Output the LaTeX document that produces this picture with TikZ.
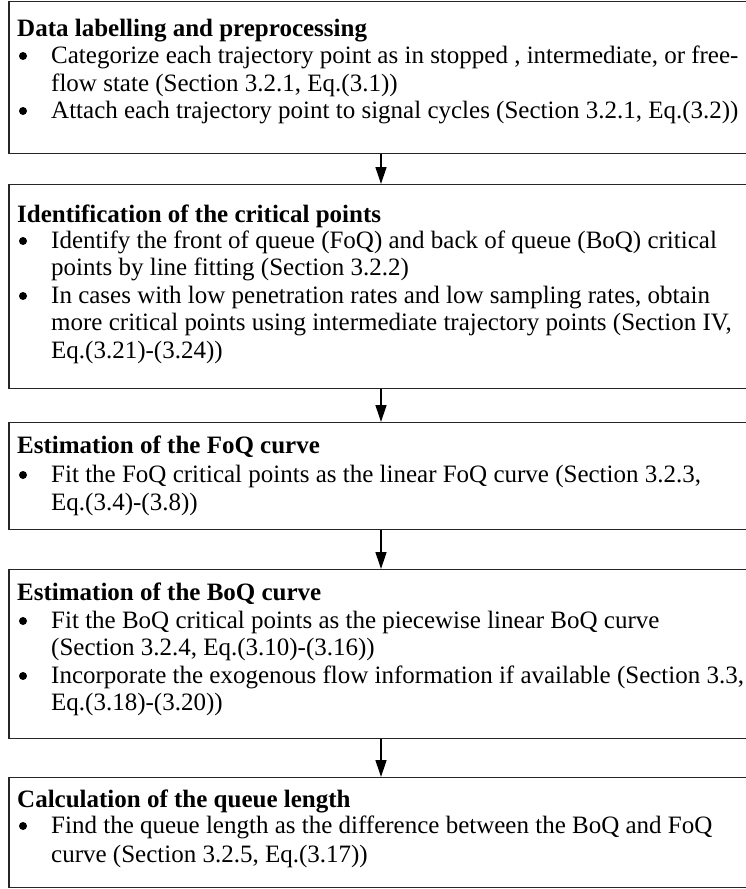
\documentclass[tikz,border=0pt]{standalone}
\usepackage{fontspec}
\setmainfont{Liberation Serif}
\usetikzlibrary{arrows.meta}
\begin{document}
\begin{tikzpicture}[x=1pt,y=-1pt,
  boxst/.style={draw=black!85,line width=1.4pt,inner sep=0pt,minimum width=744pt,anchor=north},
  txt/.style={inner sep=0pt,anchor=base west,font=\fontsize{25}{27.5}\selectfont},
  ttl/.style={txt,font=\fontsize{25}{27.5}\selectfont\bfseries},
  bul/.style={circle,fill=black,draw=none,inner sep=0pt,minimum size=8pt,yshift=7pt},
  flow/.style={line width=1.3pt,-{Triangle[length=17pt,width=11pt]}}]
\useasboundingbox (0,0) rectangle (746,889);
% boxes
\node[boxst,minimum height=152pt] (b1) at (381,1) {};
\node[boxst,minimum height=204pt] (b2) at (381,184) {};
\node[boxst,minimum height=107pt] (b3) at (381,422) {};
\node[boxst,minimum height=169pt] (b4) at (381,569) {};
\node[boxst,minimum height=110pt] (b5) at (381,777) {};
% connectors
\draw[flow] (b1.south) -- (b2.north);
\draw[flow] (b2.south) -- (b3.north);
\draw[flow] (b3.south) -- (b4.north);
\draw[flow] (b4.south) -- (b5.north);
% box 1
\node[ttl] (t1) at (17,36) {Data labelling and preprocessing};
\node[bul] (p11) at (23,63) {};
\node[txt] (l11) at (51,63) {Categorize each trajectory point as in stopped , intermediate, or free-};
\node[txt] (l12) at (51,91) {flow state (Section 3.2.1, Eq.(3.1))};
\node[bul] (p12) at (23,118) {};
\node[txt] (l13) at (51,118) {Attach each trajectory point to signal cycles (Section 3.2.1, Eq.(3.2))};
% box 2
\node[ttl] (t2) at (17,222) {Identification of the critical points};
\node[bul] (p21) at (23,248) {};
\node[txt] (l21) at (51,248) {Identify the front of queue (FoQ) and back of queue (BoQ) critical};
\node[txt] (l22) at (51,275) {points by line fitting (Section 3.2.2)};
\node[bul] (p22) at (23,303) {};
\node[txt] (l23) at (51,303) {In cases with low penetration rates and low sampling rates, obtain};
\node[txt] (l24) at (51,330) {more critical points using intermediate trajectory points (Section IV,};
\node[txt] (l25) at (51,358) {Eq.(3.21)-(3.24))};
% box 3
\node[ttl] (t3) at (17,453) {Estimation of the FoQ curve};
\node[bul] (p31) at (23,482) {};
\node[txt] (l31) at (51,482) {Fit the FoQ critical points as the linear FoQ curve (Section 3.2.3,};
\node[txt] (l32) at (51,510) {Eq.(3.4)-(3.8))};
% box 4
\node[ttl] (t4) at (17,600) {Estimation of the BoQ curve};
\node[bul] (p41) at (23,628) {};
\node[txt] (l41) at (51,628) {Fit the BoQ critical points as the piecewise linear BoQ curve};
\node[txt] (l42) at (51,655) {(Section 3.2.4, Eq.(3.10)-(3.16))};
\node[bul] (p42) at (23,683) {};
\node[txt] (l43) at (51,683) {Incorporate the exogenous flow information if available (Section 3.3,};
\node[txt] (l44) at (51,710) {Eq.(3.18)-(3.20))};
% box 5
\node[ttl] (t5) at (17,807) {Calculation of the queue length};
\node[bul] (p51) at (23,833) {};
\node[txt] (l51) at (51,833) {Find the queue length as the difference between the BoQ and FoQ};
\node[txt] (l52) at (51,862) {curve (Section 3.2.5, Eq.(3.17))};
\end{tikzpicture}
\end{document}
